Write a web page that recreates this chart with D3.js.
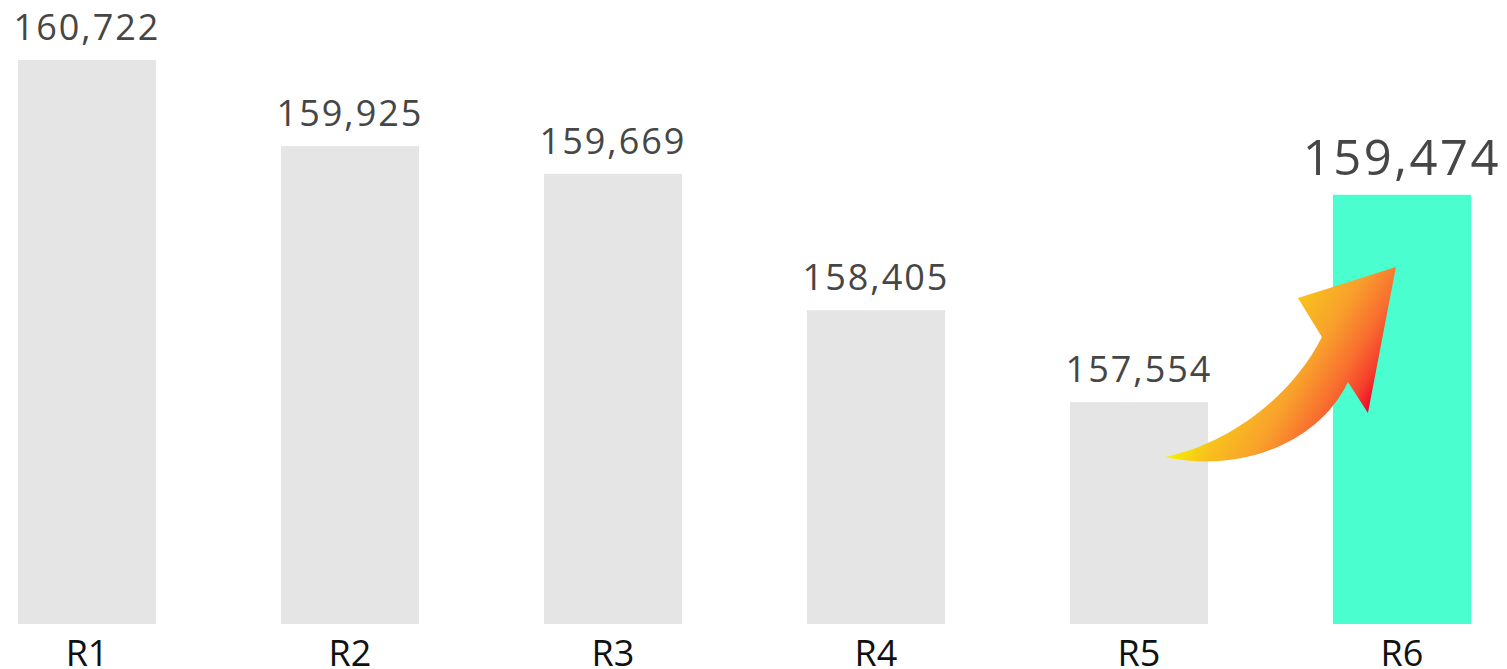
<!DOCTYPE html>
<html><head><meta charset="utf-8">
<script src="https://cdn.jsdelivr.net/npm/d3@7"></script>
<style>html,body{margin:0;padding:0;background:#fff;overflow:hidden}</style>
</head><body>
<svg id="chart" width="1507" height="669"></svg>
<script>
const categories = ["R1","R2","R3","R4","R5","R6"];
const values = [160722, 159925, 159669, 158405, 157554, 159474];
const highlightIndex = 5;

const W = 1507, H = 669;
const svg = d3.select("#chart");
const x = d3.scaleBand().domain(categories).range([18, 1471]).paddingInner(0.475).paddingOuter(0);
const y = d3.scaleLinear().domain([155500, 160722]).range([624, 60]);
const fmt = d3.format(",");

svg.selectAll("rect.bar").data(values).join("rect")
  .attr("class","bar")
  .attr("x",(d,i)=>x(categories[i]))
  .attr("y",d=>y(d))
  .attr("width",x.bandwidth())
  .attr("height",d=>y.range()[0]-y(d))
  .attr("fill",(d,i)=>i===highlightIndex?"#4bfed0":"#e5e5e5");

svg.selectAll("text.val").data(values).join("text")
  .attr("class","val")
  .attr("x",(d,i)=>x(categories[i])+x.bandwidth()/2)
  .attr("y",d=>y(d)-20)
  .attr("text-anchor","middle")
  .attr("font-family","'Open Sans', 'Noto Sans', sans-serif")
  .attr("font-weight",400)
  .attr("font-size",(d,i)=>i===highlightIndex?49:36)
  .attr("letter-spacing",(d,i)=>i===highlightIndex?"2.5px":"2px")
  .attr("fill","#464646")
  .text(d=>fmt(d));

const xAxis = d3.axisBottom(x).tickSize(0).tickPadding(0);
const gx = svg.append("g").attr("transform","translate(0,624)").call(xAxis);
gx.select(".domain").remove();
gx.selectAll("text")
  .attr("y",42)
  .attr("dy",0)
  .attr("font-family","'Open Sans', 'Noto Sans', sans-serif")
  .attr("font-size",36)
  .attr("fill","#111");

// curved arrow from R5 to R6
const x5 = x("R5"), x6 = x("R6");
const defs = svg.append("defs");
const grad = defs.append("linearGradient").attr("id","arrowGrad")
  .attr("gradientUnits","userSpaceOnUse")
  .attr("x1",x5+95).attr("y1",457).attr("x2",x5+225).attr("y2",535);
grad.append("stop").attr("offset",0).attr("stop-color","#f4f400");
grad.append("stop").attr("offset",0.22).attr("stop-color","#f8c21c");
grad.append("stop").attr("offset",0.5).attr("stop-color","#f9a02c");
grad.append("stop").attr("offset",0.72).attr("stop-color","#f87030");
grad.append("stop").attr("offset",0.88).attr("stop-color","#f5402c");
grad.append("stop").attr("offset",1).attr("stop-color","#f0002a");

const p = d3.path();
p.moveTo(x5+95, 457);
p.bezierCurveTo(x5+160, 472, x5+245, 450, x5+278, 382);
p.lineTo(x6+35, 413);
p.lineTo(x6+63, 267);
p.lineTo(x6-35, 298);
p.lineTo(x6-11, 337);
p.bezierCurveTo(x5+220, 400, x5+155, 445, x5+95, 457);
p.closePath();
svg.append("path").attr("d",p.toString()).attr("fill","url(#arrowGrad)");
</script>
</body></html>
